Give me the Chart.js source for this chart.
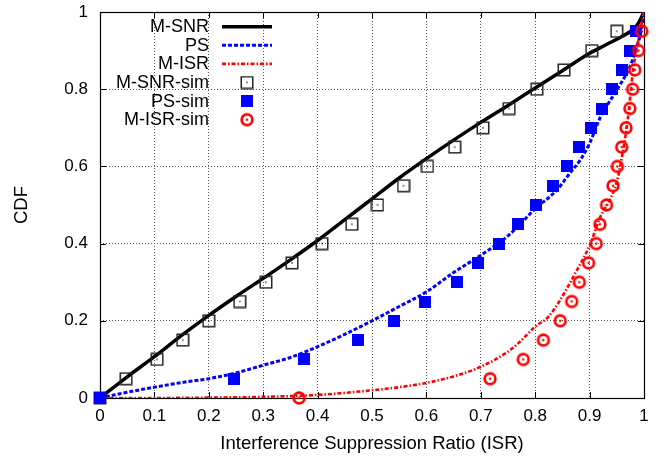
<!DOCTYPE html>
<html>
<head>
<meta charset="utf-8">
<script src="https://cdn.jsdelivr.net/npm/chart.js@4.4.1/dist/chart.umd.min.js"></script>
<style>
  html, body { margin: 0; padding: 0; background: #fff; }
  #wrap { width: 665px; height: 459px; }
</style>
</head>
<body>
<div id="wrap"><canvas id="grafico"></canvas></div>
<script>
// ticks
const xTicks = [0, 0.1, 0.2, 0.3, 0.4, 0.5, 0.6, 0.7, 0.8, 0.9, 1];
const yTicks = [0, 0.2, 0.4, 0.6, 0.8, 1];

// curvas analiticas
const snrX = [0, 0.05, 0.1, 0.15, 0.2, 0.25, 0.3, 0.35, 0.4, 0.45, 0.5, 0.55, 0.6, 0.65, 0.7, 0.75, 0.8, 0.85, 0.9, 0.93, 0.96, 0.98, 0.99, 1];
const snrY = [0, 0.055, 0.107, 0.162, 0.214, 0.263, 0.31, 0.358, 0.408, 0.462, 0.516, 0.57, 0.62, 0.668, 0.714, 0.758, 0.803, 0.848, 0.893, 0.915, 0.937, 0.955, 0.972, 1];

const psX = [0, 0.05, 0.1, 0.15, 0.2, 0.25, 0.3, 0.35, 0.4, 0.45, 0.5, 0.55, 0.6, 0.65, 0.7, 0.75, 0.8, 0.84, 0.864, 0.883, 0.9, 0.92, 0.95, 0.974, 0.987, 0.996, 1];
const psY = [0, 0.015, 0.028, 0.04, 0.05, 0.065, 0.085, 0.105, 0.133, 0.165, 0.2, 0.237, 0.275, 0.325, 0.37, 0.42, 0.49, 0.539, 0.583, 0.617, 0.66, 0.728, 0.798, 0.858, 0.91, 0.96, 1];

const isrX = [0, 0.1, 0.2, 0.3, 0.4, 0.5, 0.55, 0.6, 0.65, 0.7, 0.75, 0.772, 0.8, 0.824, 0.846, 0.87, 0.9, 0.92, 0.937, 0.95, 0.96, 0.97, 0.98, 0.99, 1];
const isrY = [0, 0, 0.001, 0.003, 0.008, 0.02, 0.028, 0.039, 0.056, 0.081, 0.12, 0.146, 0.185, 0.21, 0.254, 0.314, 0.395, 0.47, 0.513, 0.56, 0.63, 0.72, 0.85, 0.93, 1];

// simulacao (CDF em passos de 0.05)
const simCdf = [0, 0.05, 0.1, 0.15, 0.2, 0.25, 0.3, 0.35, 0.4, 0.45, 0.5, 0.55, 0.6, 0.65, 0.7, 0.75, 0.8, 0.85, 0.9, 0.95];
const snrSimX = [0, 0.048, 0.105, 0.152, 0.2, 0.257, 0.305, 0.353, 0.408, 0.463, 0.51, 0.558, 0.602, 0.652, 0.704, 0.752, 0.803, 0.853, 0.904, 0.95];
const psSimX = [0, 0.246, 0.375, 0.474, 0.54, 0.598, 0.656, 0.694, 0.734, 0.768, 0.801, 0.833, 0.858, 0.88, 0.902, 0.923, 0.941, 0.96, 0.974, 0.985];
const isrSimX = [0.366, 0.717, 0.778, 0.815, 0.846, 0.867, 0.881, 0.898, 0.912, 0.919, 0.931, 0.943, 0.951, 0.959, 0.967, 0.974, 0.979, 0.983, 0.99, 0.996];

const fonte = '"Liberation Sans", Arial, Helvetica, sans-serif';

function pares(xs, ys) {
    return xs.map((x, i) => ({ x: x, y: ys[i] }));
}

// marcadores no estilo gnuplot
function marcadorQuadrado() {
    const c = document.createElement('canvas');
    c.width = 14; c.height = 14;
    const g = c.getContext('2d');
    g.strokeStyle = '#222';
    g.lineWidth = 1.5;
    g.strokeRect(1.25, 1.25, 11.5, 11.5);
    g.fillStyle = '#222';
    g.fillRect(6.3, 6.3, 1.4, 1.4);
    return c;
}

function marcadorCheio() {
    const c = document.createElement('canvas');
    c.width = 12; c.height = 12;
    const g = c.getContext('2d');
    g.fillStyle = '#0000ff';
    g.fillRect(0, 0, 12, 12);
    return c;
}

function marcadorCirculo() {
    const c = document.createElement('canvas');
    c.width = 16; c.height = 16;
    const g = c.getContext('2d');
    g.strokeStyle = '#ff0000';
    g.lineWidth = 2.6;
    g.beginPath();
    g.arc(8, 8, 5.4, 0, Math.PI * 2);
    g.stroke();
    g.fillStyle = '#ff0000';
    g.beginPath();
    g.arc(8, 8, 1.2, 0, Math.PI * 2);
    g.fill();
    return c;
}

const imgQuadrado = marcadorQuadrado();
const imgCheio = marcadorCheio();
const imgCirculo = marcadorCirculo();

const estilos = {
    'M-SNR': { color: '#000000', width: 3.5, dash: [] },
    'PS': { color: '#0000ff', width: 3, dash: [4, 2] },
    'M-ISR': { color: '#ff0000', width: 2.6, dash: [4, 2, 1.5, 2] }
};

function linha(nome, xs, ys) {
    const e = estilos[nome];
    return {
        label: nome,
        data: pares(xs, ys),
        showLine: true,
        borderColor: e.color,
        borderWidth: e.width,
        borderDash: e.dash,
        pointRadius: 0,
        cubicInterpolationMode: 'monotone',
        fill: false
    };
}

function simulacao(nome, xs, img) {
    return {
        label: nome,
        data: pares(xs, simCdf),
        showLine: false,
        pointStyle: img,
        pointRadius: 7,
        clip: false
    };
}

// a ordem do array define quem fica por cima (primeiro = topo)
const datasets = [
    simulacao('M-ISR-sim', isrSimX, imgCirculo),
    simulacao('PS-sim', psSimX, imgCheio),
    simulacao('M-SNR-sim', snrSimX, imgQuadrado),
    linha('M-ISR', isrX, isrY),
    linha('PS', psX, psY),
    linha('M-SNR', snrX, snrY)
];

// moldura + ticks internos
const moldura = {
    id: 'moldura',
    beforeDatasetsDraw(chart) {
        const { ctx, chartArea: a, scales } = chart;
        ctx.save();
        ctx.strokeStyle = '#000';
        ctx.lineWidth = 1;
        ctx.beginPath();
        xTicks.forEach(v => {
            const px = Math.round(scales.x.getPixelForValue(v)) + 0.5;
            ctx.moveTo(px, a.bottom); ctx.lineTo(px, a.bottom - 6);
            ctx.moveTo(px, a.top); ctx.lineTo(px, a.top + 6);
        });
        yTicks.forEach(v => {
            const py = Math.round(scales.y.getPixelForValue(v)) + 0.5;
            ctx.moveTo(a.left, py); ctx.lineTo(a.left + 6, py);
            ctx.moveTo(a.right, py); ctx.lineTo(a.right - 6, py);
        });
        ctx.stroke();
        ctx.lineWidth = 1.2;
        ctx.strokeRect(Math.round(a.left) + 0.5, Math.round(a.top) + 0.5, Math.round(a.right - a.left), Math.round(a.bottom - a.top));
        ctx.restore();
    }
};

// legenda no estilo gnuplot: texto alinhado a direita, amostra a direita
const legenda = {
    id: 'legenda',
    afterDraw(chart) {
        const ctx = chart.ctx;
        const itens = [
            { nome: 'M-SNR', tipo: 'linha' },
            { nome: 'PS', tipo: 'linha' },
            { nome: 'M-ISR', tipo: 'linha' },
            { nome: 'M-SNR-sim', img: imgQuadrado },
            { nome: 'PS-sim', img: imgCheio },
            { nome: 'M-ISR-sim', img: imgCirculo }
        ];
        ctx.save();
        ctx.font = '18px ' + fonte;
        ctx.textAlign = 'right';
        ctx.textBaseline = 'middle';
        itens.forEach((it, i) => {
            const y = 26.7 + i * 18.6;
            ctx.fillStyle = '#000';
            ctx.fillText(it.nome, 209, y + 0.5);
            if (it.tipo === 'linha') {
                const e = estilos[it.nome];
                ctx.strokeStyle = e.color;
                ctx.lineWidth = e.width;
                ctx.setLineDash(e.dash);
                ctx.beginPath();
                ctx.moveTo(222, y);
                ctx.lineTo(272, y);
                ctx.stroke();
                ctx.setLineDash([]);
            } else {
                ctx.drawImage(it.img, 247 - it.img.width / 2, y - it.img.height / 2);
            }
        });
        ctx.restore();
    }
};

function formatar(v) {
    return String(+v.toFixed(1));
}

const ctx = document.getElementById('grafico').getContext('2d');
new Chart(ctx, {
    type: 'scatter',
    data: { datasets: datasets },
    plugins: [moldura, legenda],
    options: {
        responsive: true,
        maintainAspectRatio: false,
        animation: false,
        events: [],
        layout: { padding: { top: 12, right: 21, left: 0, bottom: 0 } },
        plugins: {
            legend: { display: false },
            tooltip: { enabled: false }
        },
        scales: {
            x: {
                type: 'linear',
                min: 0,
                max: 1,
                afterBuildTicks: s => { s.ticks = xTicks.map(v => ({ value: v })); },
                afterFit: s => { s.height = 61; s.paddingLeft = 0; s.paddingRight = 0; },
                ticks: {
                    color: '#000',
                    padding: 8,
                    maxRotation: 0,
                    font: { family: fonte, size: 17 },
                    callback: formatar
                },
                grid: { color: '#555', lineWidth: 1, drawTicks: false },
                border: { display: false, dash: [1, 2] },
                title: {
                    display: true,
                    text: 'Interference Suppression Ratio (ISR)',
                    color: '#000',
                    font: { family: fonte, size: 18.5 },
                    padding: { top: 0, bottom: 4 }
                }
            },
            y: {
                type: 'linear',
                min: 0,
                max: 1,
                afterBuildTicks: s => { s.ticks = yTicks.map(v => ({ value: v })); },
                afterFit: s => { s.width = 100; s.paddingTop = 0; s.paddingBottom = 0; },
                ticks: {
                    color: '#000',
                    padding: 12,
                    font: { family: fonte, size: 17 },
                    callback: formatar
                },
                grid: { color: '#555', lineWidth: 1, drawTicks: false },
                border: { display: false, dash: [1, 2] },
                title: {
                    display: true,
                    text: 'CDF',
                    color: '#000',
                    font: { family: fonte, size: 18.5 },
                    padding: { top: 11, bottom: 0 }
                }
            }
        }
    }
});
</script>
</body>
</html>
